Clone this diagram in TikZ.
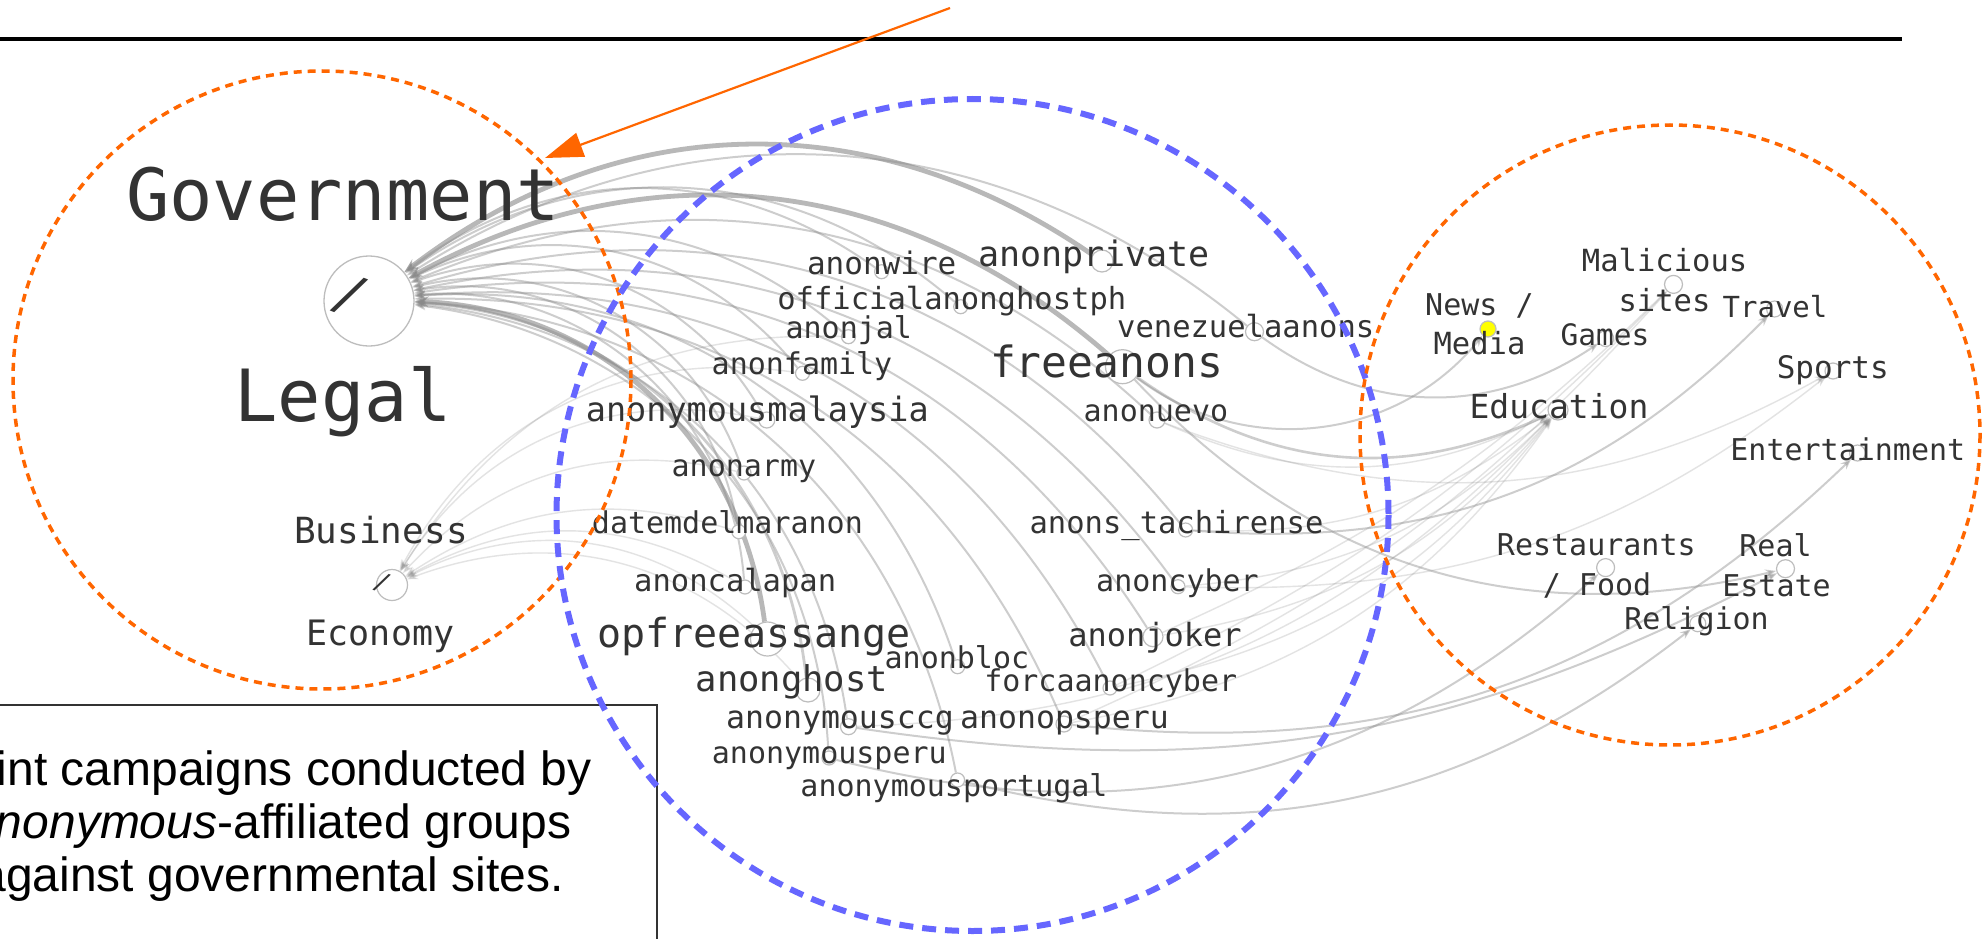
\documentclass[tikz,border=0pt]{standalone}
\usepackage{fontspec}
\setmainfont{Liberation Sans}
\newfontfamily\monof{DejaVu Sans Mono}
\usetikzlibrary{arrows.meta,backgrounds}
\definecolor{labc}{HTML}{333333}
\definecolor{edgec}{HTML}{8A8A8A}
\definecolor{dotc}{HTML}{BDBDBD}
\definecolor{orng}{HTML}{FF6600}
\definecolor{blu}{HTML}{6666FF}
\definecolor{yel}{HTML}{FFFF00}
\newcommand\lsz[1]{\monof\fontsize{#1}{#1}\selectfont}
\newcommand\bxf{\fontsize{48}{53}\selectfont}
\tikzset{
  lab/.style={inner sep=0pt, anchor=base, text=labc, font=\lsz{30}},
  dot/.style={circle, draw=dotc, fill=white, line width=1.2pt, inner sep=0pt, minimum size=#1},
  dot/.default=14pt,
  lk/.style={draw=edgec, opacity=0.42, line width=2pt, -{Stealth[length=11pt,width=8pt]}},
  lkf/.style={lk, opacity=0.24, line width=1.4pt},
  lkk/.style={lk, opacity=0.6, line width=4.8pt, -{Stealth[length=14pt,width=11pt]}},
  orcirc/.style={draw=orng, line width=3.5pt, dash pattern=on 8pt off 6pt},
  blcirc/.style={draw=blu, line width=6pt, dash pattern=on 14pt off 9pt},
  boxtxt/.style={inner sep=0pt, anchor=base east, font=\bxf, text=black},
}
\begin{document}
\begin{tikzpicture}[x=1pt,y=-1pt]
\useasboundingbox (0,0) rectangle (1984,939);
\clip (0,0) rectangle (1984,939);
\begin{scope}[on background layer]
\fill[white] (0,0) rectangle (1984,939);
\end{scope}

% top rule
\coordinate (r1) at (0,39);
\coordinate (r2) at (1902,39);
\draw[line width=4.5pt, black] (r1) -- (r2);

% target nodes
\node[dot=90pt, line width=1.3pt] (gov) at (369,301) {};
\node[dot=31pt] (bus) at (392,585) {};
\node[dot=16pt, fill=yel] (news) at (1488,329) {};
\node[dot=18pt] (sites) at (1673.5,284.4) {};
\node[dot=16pt] (games) at (1605.6,338.5) {};
\node[dot=16pt] (travel) at (1774.6,309) {};
\node[dot=16pt] (sports) at (1833,371) {};
\node[dot=20pt] (edu) at (1558,410) {};
\node[dot=16pt] (ent) at (1857.5,453) {};
\node[dot=18pt] (food) at (1605.6,567.6) {};
\node[dot=18pt] (realest) at (1785.5,568.7) {};
\node[dot=16pt] (relig) at (1697.8,623.7) {};

% source nodes
\node[dot] (s-wire) at (881.6,271.7) {};
\node[dot=22pt] (s-priv) at (1102,261) {};
\node[dot] (s-offi) at (960.7,306.7) {};
\node[dot] (s-jal) at (848.5,336.7) {};
\node[dot] (s-fam) at (802.5,373.3) {};
\node[dot=34pt] (s-free) at (1122.5,366.7) {};
\node[dot=18pt] (s-vene) at (1254.5,331.7) {};
\node[dot=16pt] (s-mala) at (766.8,420) {};
\node[dot=16pt] (s-nuevo) at (1157,420) {};
\node[dot] (s-army) at (744,473) {};
\node[dot] (s-datem) at (738.8,531.7) {};
\node[dot] (s-tachi) at (1185.6,530) {};
\node[dot] (s-cala) at (745,587) {};
\node[dot] (s-cyber) at (1178,586.7) {};
\node[dot=34pt] (s-opfree) at (767.5,639) {};
\node[dot=20pt] (s-joker) at (1153,636.7) {};
\node[dot] (s-bloc) at (957.6,666.7) {};
\node[dot=24pt] (s-ghost) at (808,690) {};
\node[dot] (s-forca) at (1110,688) {};
\node[dot=16pt] (s-ccg) at (848.5,726.7) {};
\node[dot=16pt] (s-opsperu) at (1064,724) {};
\node[dot] (s-aperu) at (829,758) {};
\node[dot] (s-portu) at (957.6,780) {};

% edges
\begin{scope}[on background layer]
\draw[lkk] (s-priv) to[bend right=36] (gov);
\draw[lkk] (s-free) to[bend right=35] (gov);
\draw[lkk] (s-opfree) to[bend right=40] (gov);
\draw[lk] (s-vene) to[bend right=36] (gov);
\draw[lk] (s-wire) to[bend right=36] (gov);
\draw[lk] (s-offi) to[bend right=38] (gov);
\draw[lk] (s-jal) to[bend right=34] (gov);
\draw[lk] (s-fam) to[bend right=38] (gov);
\draw[lk] (s-mala) to[bend right=40] (gov);
\draw[lk] (s-nuevo) to[bend right=33] (gov);
\draw[lk] (s-army) to[bend right=42] (gov);
\draw[lk] (s-datem) to[bend right=45] (gov);
\draw[lk] (s-tachi) to[bend right=34] (gov);
\draw[lk] (s-cala) to[bend right=45] (gov);
\draw[lk] (s-cyber) to[bend right=33] (gov);
\draw[lk] (s-joker) to[bend right=33] (gov);
\draw[lk] (s-bloc) to[bend right=38] (gov);
\draw[lk, line width=2.8pt] (s-ghost) to[bend right=40] (gov);
\draw[lk] (s-forca) to[bend right=34] (gov);
\draw[lk] (s-ccg) to[bend right=38] (gov);
\draw[lk] (s-opsperu) to[bend right=34] (gov);
\draw[lk] (s-aperu) to[bend right=40] (gov);
\draw[lk] (s-portu) to[bend right=38] (gov);
\draw[lkf] (s-mala) to[bend right=35] (bus);
\draw[lkf] (s-fam) to[bend right=35] (bus);
\draw[lkf] (s-jal) to[bend right=30] (bus);
\draw[lkf] (s-army) to[bend right=30] (bus);
\draw[lkf] (s-datem) to[bend right=25] (bus);
\draw[lkf] (s-cala) to[bend right=30] (bus);
\draw[lkf] (s-opfree) to[bend right=35] (bus);
\draw[lkf] (s-ghost) to[bend right=35] (bus);
\draw[lk] (s-free) to[bend right=44] (news);
\draw[lk] (s-vene) to[bend right=35] (games);
\draw[lk, line width=2.6pt] (s-free) to[bend right=30] (edu);
\draw[lkf] (s-nuevo) to[bend right=25] (edu);
\draw[lk] (s-tachi) to[bend right=25] (travel);
\draw[lkf] (s-nuevo) to[bend right=25] (sports);
\draw[lkf] (s-cyber) to[bend right=20] (sports);
\draw[lkf] (s-joker) to[bend right=10] (sites);
\draw[lkf] (s-forca) to[bend right=10] (sites);
\draw[lkf] (s-opsperu) to[bend right=12] (sites);
\draw[lkf] (s-tachi) to[bend right=20] (edu);
\draw[lkf] (s-cyber) to[bend right=20] (edu);
\draw[lkf] (s-joker) to[bend right=20] (edu);
\draw[lkf] (s-forca) to[bend right=20] (edu);
\draw[lkf] (s-opsperu) to[bend right=22] (edu);
\draw[lkf] (s-ccg) to[bend right=22] (edu);
\draw[lk] (s-ccg) to[bend right=18] (realest);
\draw[lk] (s-opsperu) to[bend right=25] (ent);
\draw[lk] (s-aperu) to[bend right=28] (food);
\draw[lk] (s-free) to[bend right=30] (realest);
\draw[lk] (s-portu) to[bend right=26] (relig);
\end{scope}

% labels
\node[lab, font=\lsz{72}] (t-gov) at (343,220) {Government};
\node[lab, font=\lsz{52}, rotate=-21, anchor=center] (t-slash) at (350,296) {/};
\node[lab, font=\lsz{72}] (t-legal) at (343,421) {Legal};
\node[lab, font=\lsz{36}] (t-bus) at (381,543) {Business};
\node[lab, font=\lsz{25}, rotate=-21, anchor=center] (t-bslash) at (382,583) {/};
\node[lab, font=\lsz{35}] (t-econ) at (380.5,645) {Economy};

\node[lab, font=\lsz{31}] (t-wire) at (881.7,274) {anonwire};
\node[lab, font=\lsz{35}] (t-priv) at (1094,266) {anonprivate};
\node[lab, font=\lsz{30.5}] (t-offi) at (951.8,309.3) {officialanonghostph};
\node[lab] (t-jal) at (848.8,338.3) {anonjal};
\node[lab] (t-fam) at (802,374) {anonfamily};
\node[lab, font=\lsz{43}] (t-free) at (1106.5,377.7) {freeanons};
\node[lab, font=\lsz{30.5}] (t-vene) at (1245.7,337) {venezuelaanons};
\node[lab, font=\lsz{33.5}] (t-mala) at (757.3,421.7) {anonymousmalaysia};
\node[lab] (t-nuevo) at (1155.9,421.7) {anonuevo};
\node[lab] (t-army) at (743.9,476) {anonarmy};
\node[lab] (t-datem) at (727.4,533.3) {datemdelmaranon};
\node[lab, font=\lsz{30.5}] (t-tachi) at (1176.5,533.3) {anons\_tachirense};
\node[lab, font=\lsz{30.5}] (t-cala) at (735.2,591.7) {anoncalapan};
\node[lab] (t-cyber) at (1177.5,591.7) {anoncyber};
\node[lab, font=\lsz{40}] (t-opfree) at (754.1,647) {opfreeassange};
\node[lab, font=\lsz{32}] (t-joker) at (1155,646.7) {anonjoker};
\node[lab] (t-bloc) at (956.9,668.3) {anonbloc};
\node[lab, font=\lsz{35.5}] (t-ghost) at (791.9,691.7) {anonghost};
\node[lab] (t-forca) at (1110.7,691.7) {forcaanoncyber};
\node[lab, font=\lsz{31.5}] (t-ccg) at (840,728.3) {anonymousccg};
\node[lab, font=\lsz{31.5}] (t-opsperu) at (1064.5,728.3) {anonopsperu};
\node[lab] (t-aperu) at (829.3,763) {anonymousperu};
\node[lab] (t-portu) at (954,796.7) {anonymousportugal};

\node[lab] (t-news) at (1479.4,315) {News /};
\node[lab, font=\lsz{30.5}] (t-media) at (1479.5,354) {Media};
\node[lab, font=\lsz{30.5}] (t-mal) at (1664.6,271) {Malicious};
\node[lab, font=\lsz{30.5}] (t-sites) at (1664.5,311.8) {sites};
\node[lab, font=\lsz{29.5}] (t-games) at (1605,345.5) {Games};
\node[lab, font=\lsz{29}] (t-travel) at (1775,317) {Travel};
\node[lab, font=\lsz{31}] (t-sports) at (1832.8,378) {Sports};
\node[lab, font=\lsz{33}] (t-edu) at (1559,418) {Education};
\node[lab] (t-ent) at (1847.8,460.5) {Entertainment};
\node[lab] (t-rest) at (1596.3,555) {Restaurants};
\node[lab] (t-food) at (1597,595) {/ Food};
\node[lab] (t-real) at (1775.5,556) {Real};
\node[lab] (t-estate) at (1776.5,596) {Estate};
\node[lab] (t-relig) at (1696.5,629.5) {Religion};

% caption box
\draw[line width=1.2pt, black!80] (-5,705) rectangle (657,960);
\node[boxtxt] (c1) at (592,785) {int campaigns conducted by};
\node[boxtxt] (c2) at (571.6,838.3) {\textit{nonymous}-affiliated groups};
\node[boxtxt] (c3) at (564,891.7) {against governmental sites.};

% dashed group circles
\draw[orcirc] (322,380) circle[radius=309];
\draw[blcirc] (972.5,515) circle[radius=416];
\draw[orcirc] (1670,435) circle[radius=310];

% orange pointer
\coordinate (a1) at (950,8);
\coordinate (a2) at (545,158);
\draw[draw=orng, line width=2.2pt, -{Triangle[length=38pt,width=25pt]}, fill=orng] (a1) -- (a2);
\end{tikzpicture}
\end{document}
